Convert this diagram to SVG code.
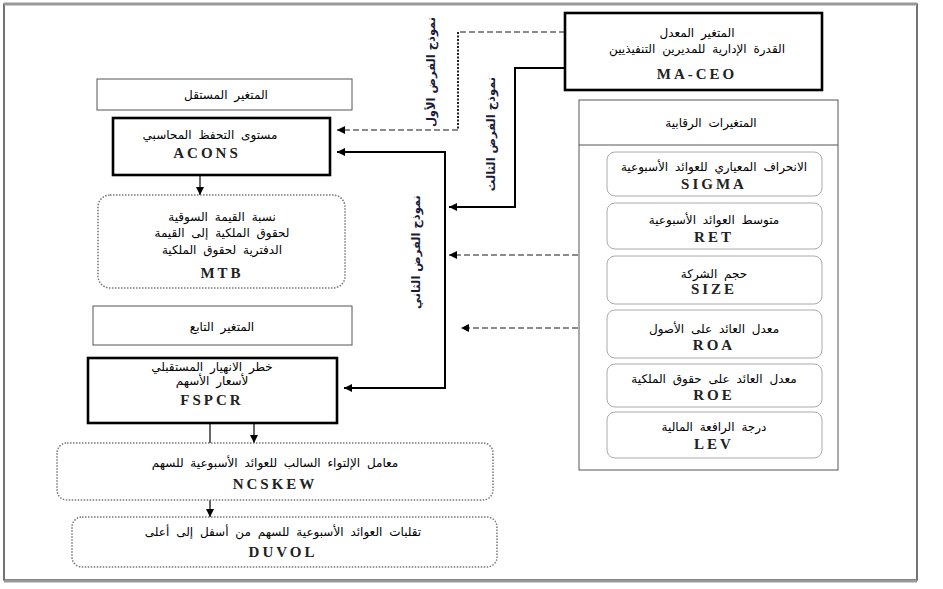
<svg xmlns="http://www.w3.org/2000/svg" width="943" height="589" viewBox="0 0 943 589">
<defs>
<style>
.ar{font-family:"DejaVu Sans",sans-serif;font-size:12px;word-spacing:3px;fill:#000;text-anchor:middle;direction:rtl}
.lat{font-family:"Liberation Serif",serif;font-size:15px;font-weight:bold;fill:#222;text-anchor:middle;letter-spacing:3px}
.rot{font-family:"DejaVu Sans",sans-serif;font-size:11.5px;font-weight:bold;fill:#1a1a3a;text-anchor:middle;direction:rtl}
.thick{fill:#fff;stroke:#000;stroke-width:2.6}
.thin{fill:#fff;stroke:#555;stroke-width:1}
.dot{fill:#fff;stroke:#777;stroke-width:1.5;stroke-dasharray:1.5 1.5}
.inner{fill:#fff;stroke:#aaa;stroke-width:1}
.solid{fill:none;stroke:#000;stroke-width:2}
.dash{fill:none;stroke:#666;stroke-width:1.6;stroke-dasharray:6 3}
.dotv{fill:none;stroke:#222;stroke-width:2;stroke-dasharray:2 1.5}
.thinl{fill:none;stroke:#000;stroke-width:1.2}
</style>
<marker id="ah" markerWidth="8" markerHeight="8" refX="8" refY="4" orient="auto" markerUnits="userSpaceOnUse">
<path d="M0,0 L8,4 L0,8 z" fill="#000"/>
</marker>
</defs>
<rect x="0" y="0" width="943" height="589" fill="#fff"/>
<rect x="4" y="4" width="913" height="576" fill="none" stroke="#444" stroke-width="1.5"/>
<line x1="4" y1="4" x2="917" y2="4" stroke="#999" stroke-width="3"/>
<line x1="4" y1="581" x2="917" y2="581" stroke="#999" stroke-width="3"/>

<g id="connectors">
<path class="dash" d="M565,32 H458"/>
<path class="dotv" d="M458,32 V130"/>
<path class="dash" d="M458,130 H337" marker-end="url(#ah)"/>
<path class="solid" d="M565,68 H515 V207 H449" marker-end="url(#ah)"/>
<path class="solid" d="M445,152 H337" marker-end="url(#ah)"/>
<path class="solid" d="M445,151 V388 H344" marker-end="url(#ah)"/>
<path class="dash" d="M578,255 H449" marker-end="url(#ah)"/>
<path class="dash" d="M578,328 H461" marker-end="url(#ah)"/>
<path class="thinl" d="M200,175 V195" marker-end="url(#ah)"/>
<path class="thinl" d="M210,423 V443"/>
<path class="thinl" d="M254,423 V443" marker-end="url(#ah)"/>
<path class="thinl" d="M210,500 V517" marker-end="url(#ah)"/>
</g>

<g id="label-h1"><text class="rot" transform="translate(435,72) rotate(-90)">نموذج الفرض الأول</text></g>
<g id="label-h3"><text class="rot" transform="translate(495,134) rotate(-90)">نموذج الفرض الثالث</text></g>
<g id="label-h2"><text class="rot" transform="translate(420,252) rotate(-90)">نموذج الفرض الثاني</text></g>

<g id="ma-ceo">
<rect class="thick" x="565" y="13" width="257" height="77"/>
<text class="ar" x="697" y="37">المتغير المعدل</text>
<text class="ar" x="697" y="53">القدرة الإدارية للمديرين التنفيذيين</text>
<text class="lat" x="697" y="79">MA-CEO</text>
</g>

<g id="independent">
<rect class="thin" x="97" y="79" width="255" height="31"/>
<text class="ar" x="226" y="99">المتغير المستقل</text>
</g>

<g id="acons">
<rect class="thick" x="113" y="118" width="217" height="57"/>
<text class="ar" x="210" y="139">مستوى التحفظ المحاسبي</text>
<text class="lat" x="207" y="158">ACONS</text>
</g>

<g id="mtb">
<rect class="dot" x="98" y="195" width="247" height="93" rx="12"/>
<text class="ar" x="222" y="221">نسبة القيمة السوقية</text>
<text class="ar" x="222" y="237">لحقوق الملكية إلى القيمة</text>
<text class="ar" x="222" y="254">الدفترية لحقوق الملكية</text>
<text class="lat" x="222" y="278">MTB</text>
</g>

<g id="dependent">
<rect class="thin" x="93" y="306" width="259" height="39"/>
<text class="ar" x="222" y="331">المتغير التابع</text>
</g>

<g id="fspcr">
<rect class="thick" x="88" y="358" width="249" height="65"/>
<text class="ar" x="212" y="371">خطر الانهيار المستقبلي</text>
<text class="ar" x="212" y="385">لأسعار الأسهم</text>
<text class="lat" x="212" y="405">FSPCR</text>
</g>

<g id="ncskew">
<rect class="dot" x="57" y="443" width="436" height="57" rx="10"/>
<text class="ar" x="275" y="467">معامل الإلتواء السالب للعوائد الأسبوعية للسهم</text>
<text class="lat" x="275" y="489">NCSKEW</text>
</g>

<g id="duvol">
<rect class="dot" x="72" y="517" width="425" height="50" rx="10"/>
<text class="ar" x="283" y="536">تقلبات العوائد الأسبوعية للسهم من أسفل إلى أعلى</text>
<text class="lat" x="283" y="557">DUVOL</text>
</g>

<g id="controls">
<rect class="thin" x="579" y="100" width="259" height="370"/>
<line x1="579" y1="145" x2="838" y2="145" stroke="#555" stroke-width="1"/>
<text class="ar" x="711" y="127">المتغيرات الرقابية</text>
</g>

<g id="sigma">
<rect class="inner" x="607" y="152" width="215" height="44" rx="8"/>
<text class="ar" x="714" y="171">الانحراف المعياري للعوائد الأسبوعية</text>
<text class="lat" x="714" y="189">SIGMA</text>
</g>
<g id="ret">
<rect class="inner" x="607" y="203" width="215" height="46" rx="8"/>
<text class="ar" x="714" y="224">متوسط العوائد الأسبوعية</text>
<text class="lat" x="714" y="242">RET</text>
</g>
<g id="size">
<rect class="inner" x="607" y="256" width="215" height="48" rx="8"/>
<text class="ar" x="714" y="278">حجم الشركة</text>
<text class="lat" x="714" y="294">SIZE</text>
</g>
<g id="roa">
<rect class="inner" x="607" y="310" width="215" height="48" rx="8"/>
<text class="ar" x="714" y="333">معدل العائد على الأصول</text>
<text class="lat" x="714" y="350">ROA</text>
</g>
<g id="roe">
<rect class="inner" x="607" y="364" width="215" height="43" rx="8"/>
<text class="ar" x="714" y="383">معدل العائد على حقوق الملكية</text>
<text class="lat" x="714" y="400">ROE</text>
</g>
<g id="lev">
<rect class="inner" x="607" y="412" width="215" height="46" rx="8"/>
<text class="ar" x="714" y="431">درجة الرافعة المالية</text>
<text class="lat" x="714" y="449">LEV</text>
</g>
</svg>
